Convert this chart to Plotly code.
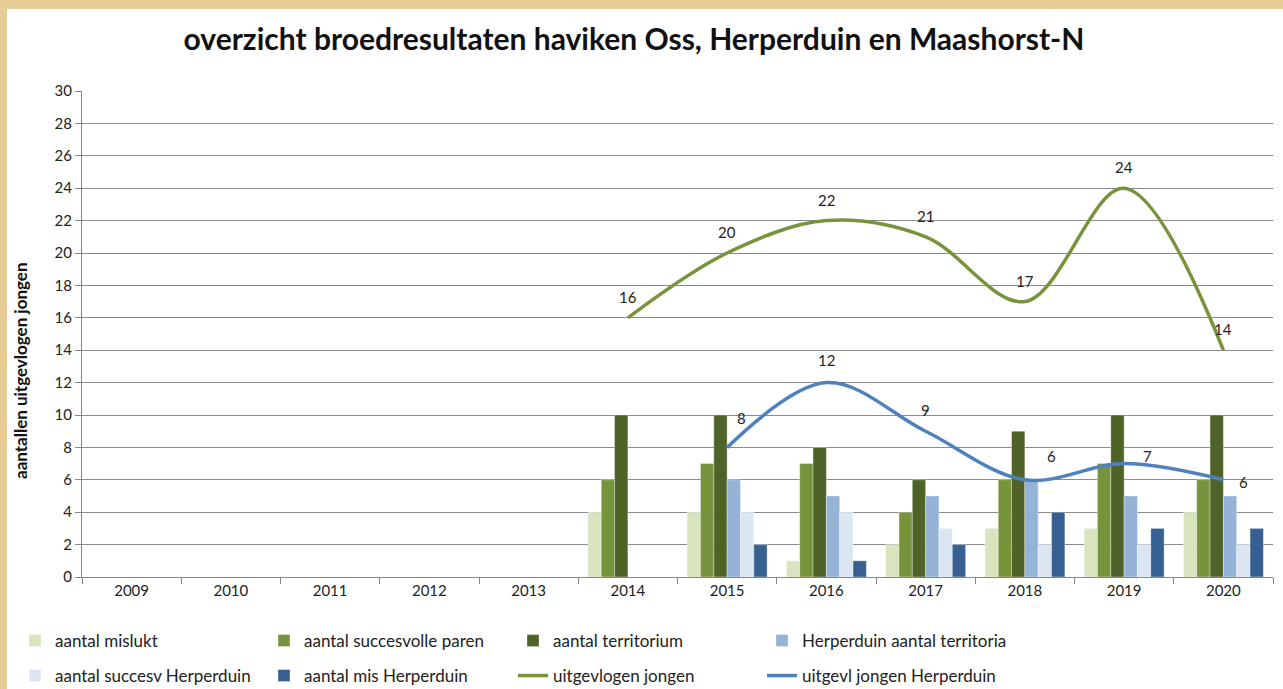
import plotly.graph_objects as go

years = ["2009", "2010", "2011", "2012", "2013", "2014", "2015", "2016", "2017", "2018", "2019", "2020"]

aantal_mislukt = [None, None, None, None, None, 4, 4, 1, 2, 3, 3, 4]
aantal_succesvolle_paren = [None, None, None, None, None, 6, 7, 7, 4, 6, 7, 6]
aantal_territorium = [None, None, None, None, None, 10, 10, 8, 6, 9, 10, 10]
herperduin_territoria = [None, None, None, None, None, None, 6, 5, 5, 6, 5, 5]
succesv_herperduin = [None, None, None, None, None, None, 4, 4, 3, 2, 2, 2]
mis_herperduin = [None, None, None, None, None, None, 2, 1, 2, 4, 3, 3]
uitgevlogen_jongen = [None, None, None, None, None, 16, 20, 22, 21, 17, 24, 14]
uitgevl_jongen_herperduin = [None, None, None, None, None, None, 8, 12, 9, 6, 7, 6]

# label offsets (pixels) for the line data labels
green_shift = [(0, 21)] * 12
blue_shift = [(0, 0)] * 6 + [(14, 29), (0, 23), (0, 21), (27, 24), (23, 8), (20, -2)]

FONT = "Lato"
PARCHMENT = "#E8CC96"
W, H = 1283, 689
L, R, T, B = 82, 10, 91, 112
PW, PH = W - L - R, H - T - B

bars = [
    ("aantal mislukt", aantal_mislukt, "#D7E4BD", "legend"),
    ("aantal succesvolle paren", aantal_succesvolle_paren, "#77933C", "legend"),
    ("aantal territorium", aantal_territorium, "#4F6228", "legend"),
    ("Herperduin aantal territoria", herperduin_territoria, "#95B3D7", "legend"),
    ("aantal succesv Herperduin", succesv_herperduin, "#DCE6F2", "legend2"),
    ("aantal mis Herperduin", mis_herperduin, "#376092", "legend2"),
]

fig = go.Figure()
for name, vals, col, lg in bars:
    fig.add_trace(go.Bar(
        x=years, y=vals, name=name,
        marker=dict(color=col, line=dict(width=0.6, color="rgba(255,255,255,0.6)")),
        legend=lg,
    ))

fig.add_trace(go.Scatter(
    x=years, y=uitgevlogen_jongen, name="uitgevlogen jongen", mode="lines",
    line=dict(color="#77933C", width=3.5, shape="spline", smoothing=1.0), legend="legend2",
))
fig.add_trace(go.Scatter(
    x=years, y=uitgevl_jongen_herperduin, name="uitgevl jongen Herperduin", mode="lines",
    line=dict(color="#4F81BD", width=3.5, shape="spline", smoothing=1.0), legend="legend2",
))

annotations = []
for series, shifts in ((uitgevlogen_jongen, green_shift), (uitgevl_jongen_herperduin, blue_shift)):
    for i, (v, (dx, dy)) in enumerate(zip(series, shifts)):
        if v is not None:
            annotations.append(dict(x=i, y=v, xref="x", yref="y", text=str(v), showarrow=False,
                                    xshift=dx, yshift=dy,
                                    font=dict(family=FONT, size=15, color="#222222")))

annotations.append(dict(
    text="<b>aantallen uitgevlogen jongen</b>", xref="paper", yref="paper",
    x=(20 - L) / PW, y=(H - B - 371) / PH,
    textangle=-90, showarrow=False, xanchor="center", yanchor="middle",
    font=dict(family=FONT, size=17, color="#111111"),
))

fig.update_layout(
    width=W, height=H,
    paper_bgcolor="white", plot_bgcolor="white",
    margin=dict(l=L, r=R, t=T, b=B),
    barmode="group", bargap=0.194, bargroupgap=0,
    title=dict(text="<b>overzicht broedresultaten haviken Oss, Herperduin en Maashorst-N</b>",
               x=634 / W, xanchor="center", y=1 - 39 / H, yanchor="middle",
               font=dict(family=FONT, size=30, color="#111111")),
    font=dict(family=FONT, size=15, color="#222222"),
    showlegend=True,
    legend=dict(orientation="h", xref="container", yref="container", x=15 / W, y=1 - 641 / H,
                xanchor="left", yanchor="middle", entrywidth=204, bgcolor="rgba(0,0,0,0)",
                font=dict(family=FONT, size=17, color="#222222"), traceorder="normal"),
    legend2=dict(orientation="h", xref="container", yref="container", x=15 / W, y=1 - 676 / H,
                 xanchor="left", yanchor="middle", entrywidth=204, bgcolor="rgba(0,0,0,0)",
                 font=dict(family=FONT, size=17, color="#222222"), traceorder="normal"),
    annotations=annotations,
    shapes=[
        dict(type="rect", xref="paper", yref="paper",
             x0=-L / PW, x1=(7 - L) / PW, y0=-B / PH, y1=(H - B) / PH,
             fillcolor=PARCHMENT, line=dict(width=0), layer="below"),
        dict(type="rect", xref="paper", yref="paper",
             x0=-L / PW, x1=(W - L) / PW, y0=(H - B - 9) / PH, y1=(H - B) / PH,
             fillcolor=PARCHMENT, line=dict(width=0), layer="below"),
    ],
)

fig.update_xaxes(
    type="category", range=[-0.5, len(years) - 0.5], showline=True, linecolor="#868686", linewidth=1,
    ticks="outside", tickson="boundaries", ticklen=6, tickcolor="#868686",
    tickfont=dict(family=FONT, size=15, color="#222222"), showgrid=False, tickangle=0,
)
fig.update_yaxes(
    range=[0, 30], dtick=2, showline=True, linecolor="#868686", linewidth=1,
    ticks="outside", ticklen=6, tickcolor="#868686", gridcolor="#8C8C8C", gridwidth=1,
    tickfont=dict(family=FONT, size=15, color="#222222"), zeroline=False,
)

fig.write_html(
    "out.html", config={"displayModeBar": False},
    post_script=("document.documentElement.style.background='white';"
                 "document.body.style.background='white';"
                 "document.body.style.margin='0';document.body.style.overflow='hidden';"),
)
